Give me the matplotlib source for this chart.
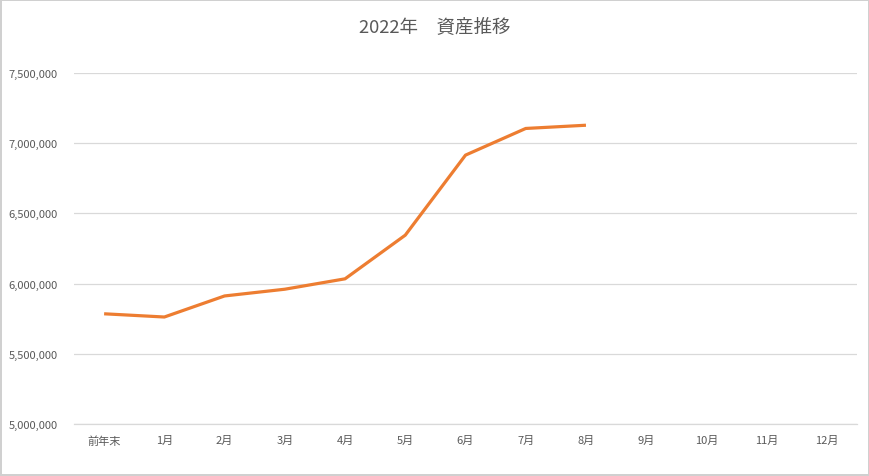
import matplotlib.pyplot as plt
from matplotlib.ticker import FuncFormatter

plt.rcParams['font.family'] = ['Noto Sans CJK JP', 'DejaVu Sans']

# データ
months = ["前年末", "1月", "2月", "3月", "4月", "5月", "6月",
          "7月", "8月", "9月", "10月", "11月", "12月"]
assets = [5785000, 5762000, 5912000, 5960000, 6034000, 6345000,
          6915000, 7105000, 7128000]
title = "2022年\u3000資産推移"

text_color = "#595959"
grid_color = "#D9D9D9"
line_color = "#ED7D31"

fig = plt.figure(figsize=(8.7, 4.77), dpi=100, edgecolor="#D0D0D0", linewidth=1.5)
ax = fig.add_axes([74 / 870, 1 - 425 / 477, (857 - 74) / 870, (425 - 74) / 477])

x = list(range(len(assets)))
ax.plot(x, assets, color=line_color, linewidth=2.3, solid_capstyle="butt")

ax.set_xlim(-0.5, len(months) - 0.5)
ax.set_ylim(5000000, 7500000)
ax.set_xticks(range(len(months)))
ax.set_xticklabels(months)
ax.set_yticks(range(5000000, 7500001, 500000))
ax.yaxis.set_major_formatter(FuncFormatter(lambda v, p: f"{int(v):,}"))

ax.grid(axis="y", color=grid_color, linewidth=0.9)
ax.set_axisbelow(True)
for side in ["top", "right", "left"]:
    ax.spines[side].set_visible(False)
ax.spines["bottom"].set_color(grid_color)
ax.spines["bottom"].set_linewidth(0.9)

ax.tick_params(axis="both", length=0, labelsize=8, labelcolor=text_color)
ax.tick_params(axis="y", pad=11.5)
ax.tick_params(axis="x", pad=8)

fig.text(0.5, 1 - 27 / 477, title, ha="center", va="center",
         fontsize=13.3, color=text_color)

fig.savefig("out.png", dpi=100)
